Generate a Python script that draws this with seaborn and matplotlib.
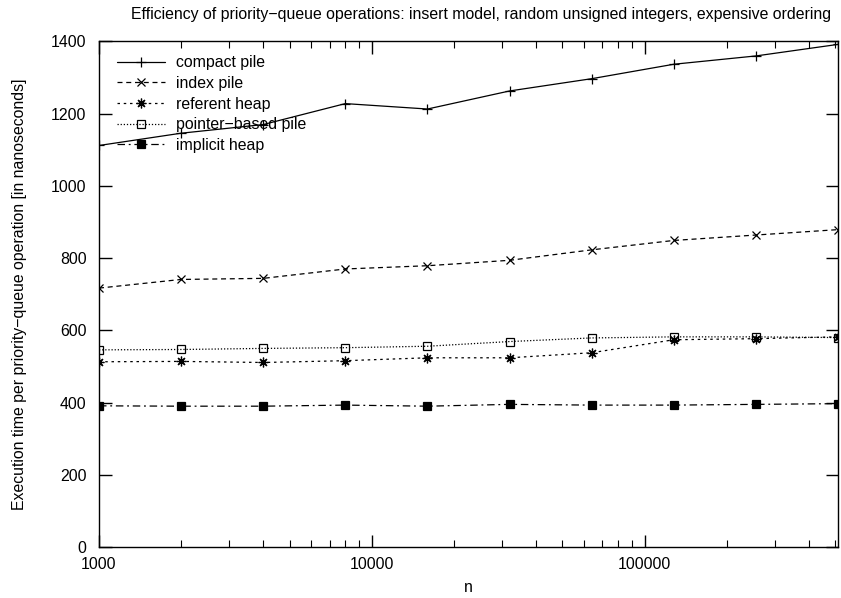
import matplotlib
matplotlib.use("Agg")
import matplotlib.pyplot as plt
import numpy as np
import pandas as pd
import seaborn as sns
from matplotlib.ticker import LogLocator, FixedLocator, NullFormatter

# Problem sizes
n_values = [1000, 2000, 4000, 8000, 16000, 32000, 64000, 128000, 256000, 512000]

# Execution time per operation [ns]
compact_pile = [1112, 1146, 1170, 1228, 1213, 1263, 1297, 1337, 1360, 1392]
index_pile = [717, 741, 744, 770, 779, 794, 823, 849, 864, 879]
referent_heap = [513, 514, 511, 516, 524, 524, 538, 574, 577, 582]
pointer_based_pile = [546, 547, 550, 552, 556, 569, 579, 582, 582, 580]
implicit_heap = [391, 390, 390, 393, 390, 395, 393, 393, 395, 397]

series_names = ["compact pile", "index pile", "referent heap",
                "pointer\u2212based pile", "implicit heap"]
series_values = [compact_pile, index_pile, referent_heap,
                 pointer_based_pile, implicit_heap]

y_ticks = [0, 200, 400, 600, 800, 1000, 1200, 1400]
x_ticks = [1000, 10000, 100000]
x_tick_labels = ["1000", "10000", "100000"]

title = ("Efficiency of priority\u2212queue operations: insert model, "
         "random unsigned integers, expensive ordering")
x_label = "n"
y_label = "Execution time per priority\u2212queue operation [in nanoseconds]"

FS = 11.4

sns.set_theme(style="white")
plt.rcParams["font.family"] = ["Liberation Sans", "DejaVu Sans"]
plt.rcParams["font.size"] = FS
plt.rcParams["text.color"] = "black"
plt.rcParams["axes.labelcolor"] = "black"
plt.rcParams["xtick.color"] = "black"
plt.rcParams["ytick.color"] = "black"

frame = pd.DataFrame({
    "n": np.tile(n_values, len(series_names)),
    "time": np.concatenate(series_values),
    "structure": np.repeat(series_names, len(n_values)),
})

styles = {
    "compact pile": dict(ls="-", marker="+", ms=7, mfc="black"),
    "index pile": dict(ls=(0, (4, 3)), marker="x", ms=6, mfc="black"),
    "referent heap": dict(ls=(0, (2, 3)), marker=(8, 2, 0), ms=7, mfc="black"),
    "pointer\u2212based pile": dict(ls=(0, (1, 1.5)), marker="s", ms=6, mfc="none"),
    "implicit heap": dict(ls=(0, (6, 3, 1.5, 3)), marker="s", ms=6, mfc="black"),
}

fig = plt.figure(figsize=(8.41, 5.98), dpi=100)
ax = fig.add_axes([99 / 841, 51 / 598, 739 / 841, 505.5 / 598])

for name in series_names:
    st = styles[name]
    sub = frame[frame["structure"] == name]
    sns.lineplot(data=sub, x="n", y="time", ax=ax, color="black",
                 linestyle=st["ls"], marker=st["marker"], markersize=st["ms"],
                 markerfacecolor=st["mfc"], markeredgecolor="black",
                 markeredgewidth=0.9, linewidth=0.9, label=name)

ax.set_xscale("log")
ax.set_xlim(1000, 512000)
ax.set_ylim(0, 1400)
ax.xaxis.set_major_locator(FixedLocator(x_ticks))
ax.set_xticklabels(x_tick_labels)
ax.xaxis.set_minor_locator(LogLocator(base=10, subs=np.arange(2, 10)))
ax.xaxis.set_minor_formatter(NullFormatter())
ax.set_yticks(y_ticks)
ax.set_yticklabels([str(v) for v in y_ticks])

for side in ["top", "right", "bottom", "left"]:
    ax.spines[side].set_visible(True)
    ax.spines[side].set_color("black")
    ax.spines[side].set_linewidth(1.0)

ax.tick_params(which="major", direction="in", length=9, width=1.0,
               top=True, right=True, bottom=True, left=True,
               labelsize=FS, colors="black")
ax.tick_params(axis="y", which="major", pad=9)
ax.tick_params(axis="x", which="major", pad=7)
ax.tick_params(which="minor", direction="in", length=5, width=0.8,
               top=True, bottom=True)

ax.set_xlabel(x_label, fontsize=FS, labelpad=6)
ax.set_ylabel(y_label, fontsize=FS, labelpad=17)
fig.text(481 / 841, 1 - 15 / 598, title, ha="center", va="center", fontsize=FS)

leg = ax.legend(loc="upper left", frameon=False, fontsize=FS,
                handlelength=3.05, handletextpad=0.7, labelspacing=0.36,
                borderaxespad=0.3, bbox_to_anchor=(0.009, 0.995))

fig.savefig("out.png", dpi=100)
